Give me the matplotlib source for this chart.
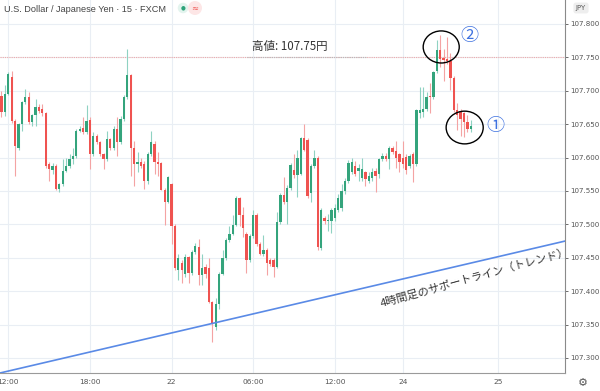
import matplotlib
matplotlib.use("Agg")
import matplotlib.pyplot as plt
from matplotlib.patches import Ellipse

# 15-minute USD/JPY candles (open, high, low, close)
opens = [107.692, 107.668, 107.695, 107.720, 107.655, 107.615, 107.650, 107.683, 107.690, 107.653,
         107.663, 107.675, 107.672, 107.667, 107.590, 107.582, 107.588, 107.553, 107.560, 107.580,
         107.588, 107.598, 107.603, 107.640, 107.645, 107.638, 107.657, 107.605, 107.633, 107.623,
         107.605, 107.598, 107.628, 107.615, 107.643, 107.623, 107.658, 107.690, 107.723, 107.615,
         107.590, 107.593, 107.590, 107.565, 107.605, 107.620, 107.594, 107.592, 107.552, 107.534,
         107.560, 107.497, 107.432, 107.442, 107.425, 107.451, 107.427, 107.459, 107.466, 107.424,
         107.436, 107.434, 107.384, 107.346, 107.381, 107.426, 107.449, 107.476, 107.486, 107.499,
         107.539, 107.514, 107.486, 107.447, 107.482, 107.514, 107.471, 107.456, 107.462, 107.446,
         107.446, 107.436, 107.504, 107.544, 107.534, 107.554, 107.582, 107.574, 107.576, 107.629,
         107.626, 107.547, 107.587, 107.599, 107.465, 107.510, 107.505, 107.505, 107.510, 107.522,
         107.525, 107.550, 107.565, 107.578, 107.588, 107.580, 107.570, 107.578, 107.565, 107.570,
         107.580, 107.575, 107.598, 107.603, 107.598, 107.615, 107.610, 107.605, 107.600, 107.601,
         107.588, 107.606, 107.591, 107.667, 107.668, 107.673, 107.692, 107.690, 107.729, 107.761,
         107.749, 107.748, 107.744, 107.719, 107.671, 107.668, 107.666, 107.653, 107.643]
highs = [107.700, 107.708, 107.728, 107.729, 107.658, 107.652, 107.685, 107.703, 107.698, 107.665,
         107.688, 107.680, 107.680, 107.668, 107.593, 107.592, 107.590, 107.562, 107.598, 107.600,
         107.605, 107.615, 107.643, 107.648, 107.660, 107.678, 107.660, 107.638, 107.635, 107.625,
         107.607, 107.640, 107.630, 107.648, 107.660, 107.662, 107.693, 107.763, 107.725, 107.625,
         107.608, 107.600, 107.595, 107.608, 107.640, 107.625, 107.609, 107.594, 107.555, 107.572,
         107.562, 107.500, 107.456, 107.447, 107.456, 107.453, 107.462, 107.472, 107.478, 107.456,
         107.440, 107.449, 107.386, 107.390, 107.428, 107.462, 107.480, 107.497, 107.514, 107.542,
         107.541, 107.526, 107.488, 107.485, 107.522, 107.517, 107.474, 107.484, 107.464, 107.449,
         107.449, 107.518, 107.547, 107.571, 107.559, 107.592, 107.606, 107.611, 107.631, 107.651,
         107.630, 107.590, 107.611, 107.602, 107.525, 107.513, 107.515, 107.525, 107.530, 107.545,
         107.560, 107.570, 107.597, 107.600, 107.595, 107.590, 107.600, 107.580, 107.578, 107.585,
         107.585, 107.600, 107.607, 107.607, 107.617, 107.617, 107.625, 107.607, 107.625, 107.605,
         107.606, 107.608, 107.673, 107.706, 107.706, 107.698, 107.711, 107.730, 107.776, 107.783,
         107.763, 107.781, 107.756, 107.722, 107.681, 107.672, 107.668, 107.663, 107.656]
lows = [107.660, 107.662, 107.693, 107.652, 107.573, 107.611, 107.640, 107.680, 107.650, 107.648,
        107.648, 107.667, 107.662, 107.585, 107.565, 107.575, 107.552, 107.548, 107.557, 107.578,
        107.585, 107.590, 107.600, 107.638, 107.636, 107.636, 107.583, 107.602, 107.620, 107.602,
        107.583, 107.595, 107.612, 107.612, 107.603, 107.620, 107.655, 107.688, 107.573, 107.558,
        107.578, 107.585, 107.553, 107.560, 107.603, 107.575, 107.572, 107.551, 107.499, 107.532,
        107.470, 107.432, 107.417, 107.412, 107.421, 107.412, 107.424, 107.456, 107.409, 107.409,
        107.420, 107.382, 107.324, 107.342, 107.373, 107.424, 107.446, 107.474, 107.484, 107.497,
        107.498, 107.481, 107.427, 107.444, 107.480, 107.468, 107.454, 107.452, 107.424, 107.437,
        107.421, 107.434, 107.501, 107.531, 107.501, 107.552, 107.570, 107.541, 107.574, 107.610,
        107.540, 107.534, 107.585, 107.461, 107.462, 107.500, 107.490, 107.487, 107.505, 107.518,
        107.520, 107.545, 107.562, 107.575, 107.572, 107.565, 107.565, 107.558, 107.562, 107.565,
        107.548, 107.570, 107.595, 107.595, 107.583, 107.605, 107.585, 107.578, 107.585, 107.575,
        107.585, 107.563, 107.588, 107.659, 107.661, 107.670, 107.666, 107.688, 107.726, 107.736,
        107.714, 107.740, 107.701, 107.668, 107.641, 107.633, 107.631, 107.638, 107.638]
closes = [107.668, 107.695, 107.725, 107.655, 107.618, 107.650, 107.683, 107.690, 107.653, 107.663,
          107.675, 107.670, 107.667, 107.588, 107.583, 107.588, 107.553, 107.560, 107.580, 107.588,
          107.598, 107.603, 107.640, 107.643, 107.638, 107.655, 107.605, 107.633, 107.623, 107.605,
          107.598, 107.628, 107.615, 107.643, 107.623, 107.658, 107.690, 107.723, 107.615, 107.590,
          107.593, 107.588, 107.565, 107.605, 107.623, 107.593, 107.590, 107.552, 107.534, 107.571,
          107.497, 107.434, 107.450, 107.432, 107.451, 107.427, 107.459, 107.467, 107.424, 107.434,
          107.426, 107.384, 107.351, 107.381, 107.426, 107.449, 107.476, 107.486, 107.499, 107.539,
          107.514, 107.494, 107.447, 107.482, 107.514, 107.471, 107.456, 107.462, 107.442, 107.441,
          107.436, 107.504, 107.544, 107.534, 107.554, 107.589, 107.574, 107.599, 107.629, 107.611,
          107.542, 107.587, 107.599, 107.466, 107.522, 107.505, 107.507, 107.522, 107.525, 107.540,
          107.550, 107.565, 107.592, 107.593, 107.575, 107.584, 107.583, 107.568, 107.572, 107.578,
          107.573, 107.598, 107.602, 107.598, 107.615, 107.608, 107.600, 107.593, 107.590, 107.581,
          107.603, 107.591, 107.671, 107.671, 107.672, 107.691, 107.690, 107.728, 107.761, 107.748,
          107.746, 107.744, 107.719, 107.671, 107.664, 107.658, 107.653, 107.643, 107.648]

# time axis: candle index of each gridline and its label
tick_idx = [2, 26, 50, 74, 98, 118, 146]
tick_labels = ["12:00", "18:00", "22", "06:00", "12:00", "24", "25"]
price_ticks = [107.30, 107.35, 107.40, 107.45, 107.50, 107.55, 107.60, 107.65, 107.70, 107.75, 107.80]

# 4h support line (two points at the chart edges) and the high
trend_x = [-0.44, 165.7]
trend_y = [107.2775, 107.475]
high_price = 107.75

jp = ["Noto Sans CJK JP", "DejaVu Sans"]
up_body, up_wick = "#34a47c", "#8fd2c2"
dn_body, dn_wick = "#ef5350", "#f4a3a3"

fig = plt.figure(figsize=(6, 3.91), dpi=100)
ax = fig.add_axes([0, 18 / 391, 565 / 600, 373 / 391])

idx = list(range(len(opens)))
for i in idx:
    o, h, l, c = opens[i], highs[i], lows[i], closes[i]
    up = c >= o
    ax.vlines(i, l, h, color=up_wick if up else dn_wick, lw=0.8, zorder=2)
    ax.bar(i, max(abs(c - o), 0.0012), bottom=min(o, c), width=0.68,
           color=up_body if up else dn_body, zorder=3, linewidth=0)

ax.plot(trend_x, trend_y, color="#5a8ae6", lw=1.2, zorder=4)
ax.axhline(high_price, color="#f0a8a8", lw=0.8, ls=(0, (1, 1)), zorder=1)
ax.hlines(high_price, 72.3, 107.5, color="#b8b8b8", lw=0.8, ls=(0, (1, 1)), zorder=1)

ax.set_xlim(-0.44, 165.7)
ax.set_ylim(107.2775, 107.8359)

ax.set_xticks(tick_idx)
ax.set_xticklabels(tick_labels)
ax.set_yticks(price_ticks)
ax.set_yticklabels([f"{p:.3f}" for p in price_ticks])
ax.yaxis.tick_right()
ax.tick_params(axis="y", labelsize=5.1, colors="#555555", length=2, pad=1.5, width=0.6)
ax.tick_params(axis="x", labelsize=5.4, colors="#555555", length=0, pad=4)
ax.grid(True, color="#e9eef4", lw=0.8, zorder=0)
ax.set_axisbelow(True)
for s in ["top", "left"]:
    ax.spines[s].set_visible(False)
ax.spines["right"].set_color("#8a8a8a")
ax.spines["bottom"].set_color("#9a9a9a")
ax.spines["right"].set_linewidth(0.8)
ax.spines["bottom"].set_linewidth(0.8)

# annotations
ax.text(84.9, 107.7656, "高値: 107.75円", family=jp, fontsize=8.3, color="#333333",
        ha="center", va="center", zorder=5)
ax.text(139.2, 107.421, "4時間足のサポートライン（トレンド）", family=jp, fontsize=8,
        color="#333333", ha="center", va="center", rotation=15.5, rotation_mode="anchor", zorder=5)
ax.add_patch(Ellipse((129.3, 107.7656), 10.6, 0.048, fill=False, ec="black", lw=1.0, zorder=6))
ax.add_patch(Ellipse((136.2, 107.645), 10.9, 0.049, fill=False, ec="black", lw=1.0, zorder=6))
ax.text(137.6, 107.782, "②", family=jp, fontsize=13, color="#3f72e0", ha="center", va="center")
ax.text(145.3, 107.6466, "①", family=jp, fontsize=13, color="#3f72e0", ha="center", va="center")

# header bits
fig.text(0.007, 1 - 9 / 391, "U.S. Dollar / Japanese Yen · 15 · FXCM", fontsize=6.6,
         color="#444444", family="Liberation Sans", va="center")
fig.text(183 / 600, 1 - 8 / 391, "●", fontsize=4, color="#2ea37a", ha="center", va="center",
         bbox=dict(boxstyle="circle,pad=0.5", fc="#e3f4ee", ec="none"))
fig.text(195 / 600, 1 - 8 / 391, "≈", fontsize=6, color="#ef5350", ha="center", va="center",
         bbox=dict(boxstyle="circle,pad=0.3", fc="#fde6e6", ec="none"))
fig.text(581 / 600, 1 - 8 / 391, "JPY", fontsize=5, color="#555555", ha="center", va="center",
         bbox=dict(boxstyle="round,pad=0.35", fc="#eeeeee", ec="none"))
fig.text(583 / 600, 8 / 391, "⚙", fontsize=8, color="#555555", ha="center", va="center")

fig.savefig("out.png", dpi=100)
